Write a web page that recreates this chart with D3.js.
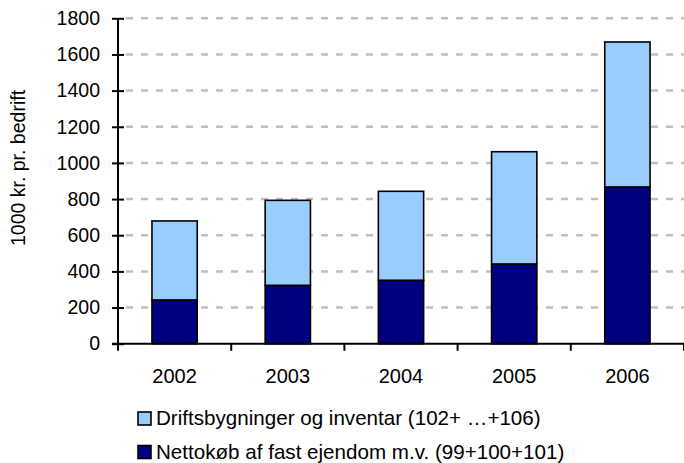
<!DOCTYPE html>
<html><head><meta charset="utf-8">
<script src="https://cdn.jsdelivr.net/npm/d3@7"></script>
<style>body{margin:0;background:#fff}svg{display:block}text{font-family:"Liberation Sans",Arial,sans-serif;fill:#000}</style>
</head><body><svg id="c" width="684" height="463"></svg>
<script>
const years = ["2002","2003","2004","2005","2006"];
const netto = [242, 323, 351, 441, 867];
const drift = [437, 470, 492, 621, 802];
const yTicks = [0,200,400,600,800,1000,1200,1400,1600,1800];
const seriesNames = ["Driftsbygninger og inventar (102+ \u2026+106)", "Nettokøb af fast ejendom m.v. (99+100+101)"];
const colors = ["#99CCFF", "#000080"];
const yTitle = "1000 kr. pr. bedrift";

const FF = "Liberation Sans, Arial, sans-serif";
const svg = d3.select("#c");
const x = d3.scaleBand().domain(years).range([118, 684]).paddingInner(0.6).paddingOuter(0.3);
const y = d3.scaleLinear().domain([0, 1800]).range([343.7, 18.3]);

// gridlines
svg.append("g").selectAll("line").data(yTicks.slice(1)).join("line")
  .attr("x1", 126).attr("x2", 684)
  .attr("y1", d => y(d)).attr("y2", d => y(d))
  .attr("stroke", "#C0C0C0").attr("stroke-width", 2.5).attr("stroke-dasharray", "7,8");

const data = years.map((yr, i) => ({yr, n: netto[i], d: drift[i]}));
const g = svg.append("g");
g.selectAll("rect.n").data(data).join("rect").attr("class","n")
  .attr("x", d => x(d.yr)).attr("width", x.bandwidth())
  .attr("y", d => y(d.n)).attr("height", d => y(0) - y(d.n))
  .attr("fill", colors[1]).attr("stroke", "#000").attr("stroke-width", 1.6);
g.selectAll("rect.d").data(data).join("rect").attr("class","d")
  .attr("x", d => x(d.yr)).attr("width", x.bandwidth())
  .attr("y", d => y(d.n + d.d)).attr("height", d => y(d.n) - y(d.n + d.d))
  .attr("fill", colors[0]).attr("stroke", "#000").attr("stroke-width", 1.6);

// y axis
const ya = svg.append("g").attr("transform", "translate(118,0)")
  .call(d3.axisLeft(y).tickValues(yTicks).tickFormat(d3.format("d")).tickSize(6).tickPadding(12));
ya.selectAll(".tick line").attr("x2", 6).attr("x1", -6);
ya.select(".domain").remove();
ya.append("line").attr("x1",0).attr("x2",0).attr("y1",y(1800)).attr("y2",y(0)+6).attr("stroke","#000").attr("stroke-width",2);
ya.selectAll(".tick line").attr("stroke","#000").attr("stroke-width",2);
ya.selectAll("text").attr("font-size", 19.5).attr("font-family", FF);

// x axis
const xa = svg.append("g").attr("transform", `translate(0,${y(0)})`);
xa.append("line").attr("x1",112).attr("x2",684).attr("stroke","#000").attr("stroke-width",2);
const bounds = years.map(yv => x(yv) - x.step()*x.paddingInner()/2).concat([684]);
xa.selectAll("line.t").data(bounds).join("line").attr("class","t")
  .attr("x1", d => d).attr("x2", d => d).attr("y1", 0).attr("y2", 7)
  .attr("stroke","#000").attr("stroke-width",2);
xa.selectAll("text").data(years).join("text")
  .attr("x", d => x(d) + x.bandwidth()/2).attr("y", 39)
  .attr("text-anchor","middle").attr("font-size", 20).text(d => d);

// y title
svg.append("text").attr("transform", "translate(25,168) rotate(-90)")
  .attr("text-anchor","middle").attr("font-size", 19.5).text(yTitle);

// legend
const leg = svg.append("g");
seriesNames.forEach((nm, i) => {
  const yy = 412 + i*33.5;
  leg.append("rect").attr("x", 138).attr("y", yy).attr("width", 13).attr("height", 13)
    .attr("fill", colors[i]).attr("stroke","#000").attr("stroke-width",1.6);
  leg.append("text").attr("x", 156).attr("y", yy + 13).attr("font-size", 20.6).text(nm);
});
</script></body></html>
